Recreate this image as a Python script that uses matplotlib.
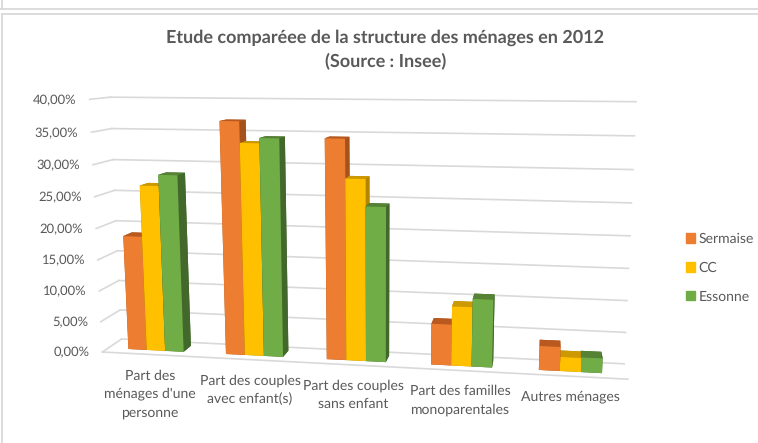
import numpy as np
import matplotlib
matplotlib.use("Agg")
import matplotlib.pyplot as plt
from matplotlib.lines import Line2D
from matplotlib.patches import Patch

W, H = 758, 443

categories = ["Part des\nménages d'une\npersonne", "Part des couples\navec enfant(s)",
              "Part des couples\nsans enfant", "Part des familles\nmonoparentales",
              "Autres ménages"]
series_names = ["Sermaise", "CC", "Essonne"]
sermaise = [18.5, 36.8, 34.4, 6.45, 3.75]
cc = [26.6, 33.5, 28.4, 9.3, 2.2]
essonne = [28.35, 34.3, 24.25, 10.6, 2.3]
yticks = [0, 5, 10, 15, 20, 25, 30, 35, 40]
ytick_labels = ["0,00%", "5,00%", "10,00%", "15,00%", "20,00%", "25,00%", "30,00%", "35,00%", "40,00%"]

front = ["#ED7D31", "#FFC000", "#70AD47"]
top = ["#B9591F", "#CC9900", "#558235"]
side = ["#A5521B", "#B38600", "#43682B"]
grid = "#D9D9D9"
text_col = "#595959"

plt.rcParams['font.family'] = ['Lato', 'DejaVu Sans']
plt.rcParams['text.hinting'] = 'no_hinting'
plt.rcParams['text.hinting_factor'] = 1

# wall and floor corners seen in the picture: (category, depth, value) -> pixel
world = np.array([(0, 1, 40), (5, 1, 40), (5, 1, 0), (0, 1, 0), (0, 0, 40), (0, 0, 0), (5, 0, 0)], float)
pixel = np.array([(110, 97), (636, 101.7), (624, 364), (122, 339), (90, 99.5), (102, 352), (628, 379)], float)

rows, rhs = [], []
for (x, y, z), (u, v) in zip(world, pixel):
    rows.append([x, y, z, 1, 0, 0, 0, 0, -u * x, -u * y, -u * z])
    rows.append([0, 0, 0, 0, x, y, z, 1, -v * x, -v * y, -v * z])
    rhs += [u, v]
p = np.linalg.lstsq(np.array(rows), np.array(rhs), rcond=None)[0]
P = np.append(p, 1).reshape(3, 4)

fig = plt.figure(figsize=(W / 100, H / 100), dpi=100)
ax = fig.add_axes([0, 0, 1, 1], projection='3d')
ax.set_axis_off()
ax.computed_zorder = False


def pixel_proj():
    # camera taken from the corners above instead of view_init
    Pd = P.copy()
    Pd[1] = H * P[2] - P[1]
    T = ax.transData.inverted().get_matrix()
    XYW = T @ Pd
    # third row only orders the faces, it has to stay negative
    return np.array([XYW[0], XYW[1], [0, 1, 0, -2], XYW[2]])


ax.get_proj = pixel_proj

for v in yticks:
    ax.plot([0, 5], [1, 1], [v, v], color=grid, lw=1.2, clip_on=False, zorder=1)
    ax.plot([0, 0], [0, 1], [v, v], color=grid, lw=1.2, clip_on=False, zorder=1)
ax.plot([0, 5], [0, 0], [0, 0], color=grid, lw=1.2, clip_on=False, zorder=1)

bar_w = 0.19
values = [sermaise, cc, essonne]
z = 3
for i in range(len(categories)):
    order = [0, 1, 2] if i < 4 else [2, 1, 0]
    for s in order:
        # faces: bottom, top, front, back, left, right
        colors = [side[s], top[s], front[s], side[s], side[s], side[s]]
        ax.bar3d(i + 0.21 + s * bar_w, 0.3, 0, bar_w, 0.45, values[s][i], color=colors,
                 shade=False, linewidth=0, clip_on=False, zorder=z)
        z += 1

for v, lab in zip(yticks, ytick_labels):
    # tick labels sit left of the front end of each grid line
    u, t, w = P @ np.array([-0.13, 0, v, 1])
    fig.text(u / w / W, 1 - t / w / H, lab, ha='right', va='center_baseline', color=text_col, fontsize=9.6)

label_xy = [(150, 394), (250, 390), (353, 395), (460, 400), (570, 397)]
for lab, (x, y) in zip(categories, label_xy):
    fig.text(x / W, 1 - y / H, lab, ha='center', va='center', color=text_col, fontsize=10,
             linespacing=1.55)

fig.text(385.5 / W, 1 - 49.5 / H, "Etude comparéee de la structure des ménages en 2012\n(Source : Insee)",
         ha='center', va='center', color=text_col, fontsize=13.2, fontweight='bold', linespacing=1.42)

handles = [Patch(color=c) for c in front]
fig.legend(handles, series_names, loc='upper left', bbox_to_anchor=(682 / W, 1 - 228.5 / H), frameon=False,
           fontsize=9.9, labelcolor=text_col, handlelength=0.66, handleheight=0.66, handletextpad=0.22,
           labelspacing=1.17, borderpad=0.3, borderaxespad=0)

# sheet frame around the chart
for xs, ys in [([0, W], [9, 9]), ([2, W], [14, 14]), ([2, 2], [14, H]), ([2, 2], [0, 9])]:
    fig.add_artist(Line2D([x / W for x in xs], [1 - y / H for y in ys], color=grid, lw=1.3))

fig.savefig("out.png", dpi=100)
